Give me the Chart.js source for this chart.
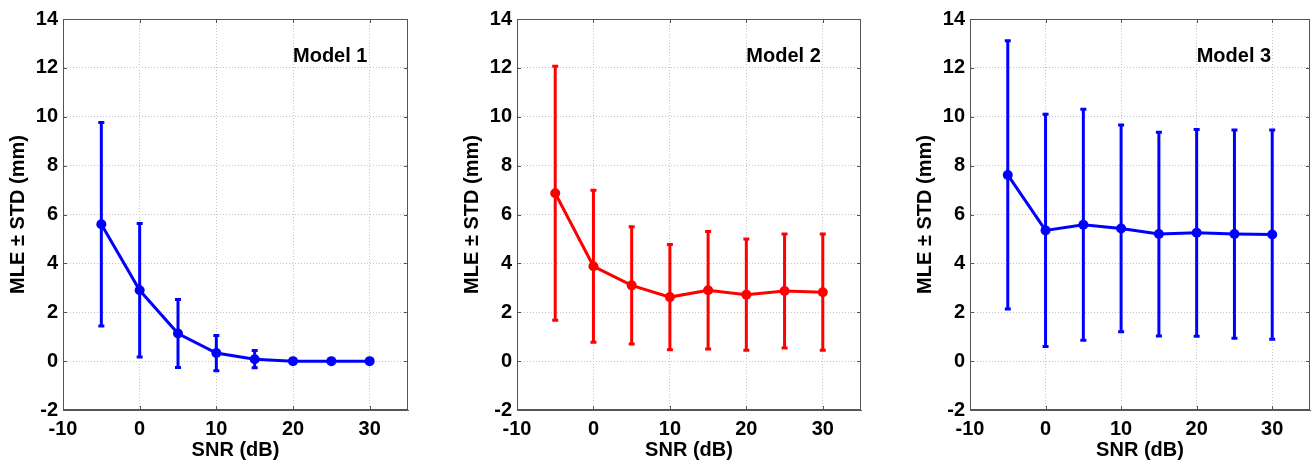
<!DOCTYPE html>
<html>
<head>
<meta charset="utf-8">
<script src="https://cdn.jsdelivr.net/npm/chart.js@4.4.1/dist/chart.umd.min.js"></script>
<style>
  html, body { margin: 0; padding: 0; background: #fff; }
  body { width: 1315px; height: 462px; position: relative; overflow: hidden; }
  canvas { position: absolute; top: 0; }
</style>
</head>
<body>
<canvas id="c1"></canvas>
<canvas id="c2"></canvas>
<canvas id="c3"></canvas>
<script>
// data: mean localisation error and its std, per SNR
const snr = [-5, 0, 5, 10, 15, 20, 25, 30];

const model1Mean = [5.6, 2.9, 1.13, 0.33, 0.08, 0.0, 0.0, 0.0];
const model1Std  = [4.16, 2.73, 1.39, 0.72, 0.35, 0.0, 0.0, 0.0];

const model2Mean = [6.87, 3.88, 3.1, 2.62, 2.9, 2.72, 2.87, 2.82];
const model2Std  = [5.2, 3.11, 2.4, 2.15, 2.4, 2.28, 2.33, 2.38];

const model3Mean = [7.62, 5.35, 5.58, 5.43, 5.2, 5.25, 5.2, 5.18];
const model3Std  = [5.49, 4.75, 4.73, 4.23, 4.17, 4.23, 4.26, 4.28];

const xTicks = [-10, 0, 10, 20, 30];
const yTicks = [-2, 0, 2, 4, 6, 8, 10, 12, 14];
const modelNames = ['Model 1', 'Model 2', 'Model 3'];

const FONT = "'Liberation Sans', Arial, sans-serif";
Chart.defaults.font.family = FONT;
Chart.defaults.font.weight = 'bold';
Chart.defaults.color = '#000';

// error bars, drawn under the line and markers
const errorBars = {
  id: 'errorBars',
  beforeDatasetsDraw(chart) {
    const { ctx } = chart;
    const x = chart.scales.x, y = chart.scales.y;
    chart.data.datasets.forEach(ds => {
      ctx.save();
      ctx.strokeStyle = ds.borderColor;
      ctx.lineWidth = 3;
      ds.data.forEach((p, i) => {
        const s = ds.std[i];
        if (!s) return;
        const px = x.getPixelForValue(p.x);
        const top = y.getPixelForValue(p.y + s);
        const bot = y.getPixelForValue(p.y - s);
        ctx.beginPath();
        ctx.moveTo(px, top); ctx.lineTo(px, bot);
        ctx.moveTo(px - 3, top); ctx.lineTo(px + 3, top);
        ctx.moveTo(px - 3, bot); ctx.lineTo(px + 3, bot);
        ctx.stroke();
      });
      ctx.restore();
    });
  }
};

// matlab style box with inward ticks on all sides
const boxFrame = {
  id: 'boxFrame',
  beforeDatasetsDraw(chart) {
    const { ctx, chartArea: a } = chart;
    const x = chart.scales.x, y = chart.scales.y;
    ctx.save();
    ctx.strokeStyle = '#555';
    ctx.lineWidth = 1;
    ctx.strokeRect(a.left + 0.5, a.top + 0.5, a.right - a.left - 1, a.bottom - a.top - 1);
    ctx.beginPath();
    xTicks.forEach(v => {
      const px = Math.round(x.getPixelForValue(v)) + 0.5;
      ctx.moveTo(px, a.bottom); ctx.lineTo(px, a.bottom - 4);
      ctx.moveTo(px, a.top); ctx.lineTo(px, a.top + 4);
    });
    yTicks.forEach(v => {
      const py = Math.round(y.getPixelForValue(v)) + 0.5;
      ctx.moveTo(a.left, py); ctx.lineTo(a.left + 4, py);
      ctx.moveTo(a.right, py); ctx.lineTo(a.right - 4, py);
    });
    ctx.stroke();
    ctx.restore();
  },
  afterDatasetsDraw(chart, args, opts) {
    const { ctx } = chart;
    ctx.save();
    ctx.font = 'bold 20px ' + FONT;
    ctx.fillStyle = '#000';
    ctx.textBaseline = 'middle';
    ctx.fillText(opts.label, chart.scales.x.getPixelForValue(20.0), chart.scales.y.getPixelForValue(12.45));
    ctx.restore();
  }
};

const panels = [
  { id: 'c1', mean: model1Mean, std: model1Std, color: '#0000ff', left: 63, right: 408 },
  { id: 'c2', mean: model2Mean, std: model2Std, color: '#ff0000', left: 517, right: 861 },
  { id: 'c3', mean: model3Mean, std: model3Std, color: '#0000ff', left: 970, right: 1314 }
];

panels.forEach((p, k) => {
  const cv = document.getElementById(p.id);
  const padRight = k === 2 ? 1 : 10;
  cv.width = p.right - p.left + 63 + padRight;
  cv.height = 462;
  cv.style.left = (p.left - 63) + 'px';

  new Chart(cv, {
    type: 'line',
    data: {
      datasets: [{
        data: snr.map((s, i) => ({ x: s, y: p.mean[i] })),
        std: p.std,
        borderColor: p.color,
        backgroundColor: p.color,
        borderWidth: 3,
        pointRadius: 5,
        pointBorderWidth: 0,
        tension: 0
      }]
    },
    options: {
      responsive: false,
      animation: false,
      devicePixelRatio: 1,
      layout: { padding: { left: 0, right: padRight, top: 19, bottom: 0 } },
      plugins: {
        legend: { display: false },
        tooltip: { enabled: false },
        boxFrame: { label: modelNames[k] }
      },
      scales: {
        x: {
          type: 'linear',
          min: -10, max: 35,
          afterBuildTicks: s => { s.ticks = xTicks.map(v => ({ value: v })); },
          afterFit: s => { s.height = 52; },
          ticks: { padding: 7, font: { size: 20, weight: 'bold' }, color: '#000' },
          grid: { color: '#c4c4c4', lineWidth: 1, drawTicks: false },
          border: { display: true, color: '#555', width: 1, dash: [1, 2] },
          title: { display: true, text: 'SNR (dB)', font: { size: 20, weight: 'bold' }, color: '#000', padding: { top: 0, bottom: 0 } }
        },
        y: {
          type: 'linear',
          min: -2, max: 14,
          afterBuildTicks: s => { s.ticks = yTicks.map(v => ({ value: v })); },
          afterFit: s => { s.width = 63; },
          ticks: { padding: 5, font: { size: 20, weight: 'bold' }, color: '#000' },
          grid: { color: '#c4c4c4', lineWidth: 1, drawTicks: false },
          border: { display: true, color: '#555', width: 1, dash: [1, 2] },
          title: { display: true, text: 'MLE ± STD (mm)', font: { size: 20, weight: 'bold' }, color: '#000', padding: { top: 6, bottom: 0 } }
        }
      }
    },
    plugins: [errorBars, boxFrame]
  });
});
</script>
</body>
</html>
